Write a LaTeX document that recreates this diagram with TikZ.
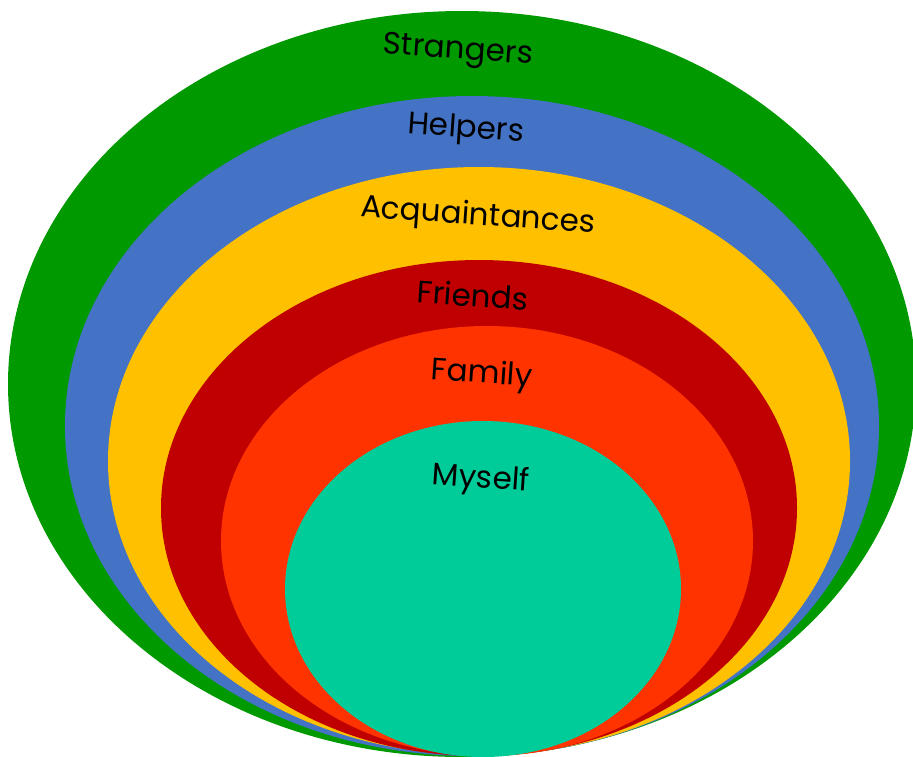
\documentclass[tikz,border=0pt]{standalone}
\usepackage{fontspec}
\setmainfont{Poppins}
\begin{document}
\begin{tikzpicture}[x=1pt,y=-1pt,
  lbl/.style={font=\fontsize{31}{34}\selectfont, text=black, rotate=-4, inner sep=0pt}]
\useasboundingbox (0,0) rectangle (913,756);
\clip (0,0) rectangle (913,756);
\definecolor{cgreen}{HTML}{009900}
\definecolor{cblue}{HTML}{4472C4}
\definecolor{cyellow}{HTML}{FFC000}
\definecolor{cdred}{HTML}{C00000}
\definecolor{corange}{HTML}{FF3300}
\definecolor{cteal}{HTML}{00CC99}
\fill[cgreen]  (462,384) ellipse [x radius=454, y radius=373];
\fill[cblue]   (472,426) ellipse [x radius=407, y radius=330];
\fill[cyellow] (479,461) ellipse [x radius=371, y radius=294];
\fill[cdred]   (479,508) ellipse [x radius=318, y radius=248];
\fill[corange] (487,541) ellipse [x radius=266, y radius=215];
\fill[cteal]   (483,589) ellipse [x radius=198, y radius=168];
\foreach \nm/\t/\px/\py in {s/Strangers/458/52, h/Helpers/466/130, a/Acquaintances/478/217, f/Friends/473/295, fa/Family/482/375, m/Myself/481/480}{
  \node[lbl] (\nm) at (\px,\py) {\t};
}
\end{tikzpicture}
\end{document}
